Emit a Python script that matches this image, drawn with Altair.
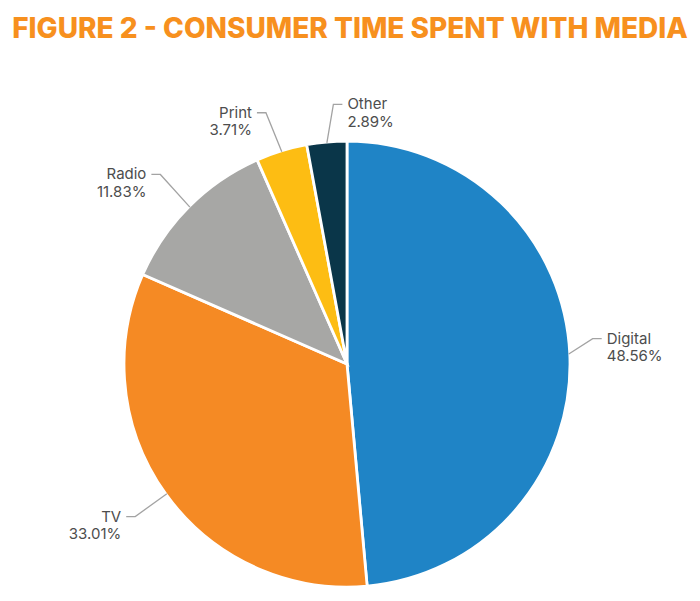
import altair as alt
import pandas as pd
import numpy as np

categories = ["Digital", "TV", "Radio", "Print", "Other"]
values = [48.56, 33.01, 11.83, 3.71, 2.89]
pct_labels = ["48.56%", "33.01%", "11.83%", "3.71%", "2.89%"]
colors = ["#1F84C6", "#F58A24", "#A7A7A5", "#FDBD13", "#0A3649"]

# label layout (style, not data)
label_side = {"Digital": "right", "TV": "left", "Radio": "left", "Print": "left", "Other": "right"}
elbow_r = {"Digital": 247, "TV": 261, "Radio": 266, "Print": 264, "Other": 260}
elbow_turn = {"Digital": -3.3, "TV": 0.0, "Radio": 0.5, "Print": -0.8, "Other": 2.2}  # degrees

W, H = 684, 585
cx, cy = 339, 356
R = 223
TAIL = 9
GAP = 5

df = pd.DataFrame({"cat": categories, "value": values, "pct": pct_labels,
                   "order": list(range(len(categories)))})
df["side"] = df["cat"].map(label_side)
total = df["value"].sum()
cum = df["value"].cumsum() - df["value"] / 2
ang = cum / total * 2 * np.pi
ang_k = ang + np.deg2rad(df["cat"].map(elbow_turn))
re = df["cat"].map(elbow_r)
df["ex"] = (R - 1) * np.sin(ang)
df["ey"] = (R - 1) * np.cos(ang)
df["kx"] = re * np.sin(ang_k)
df["ky"] = re * np.cos(ang_k)
sign = np.where(df["side"] == "right", 1, -1)
df["tx"] = df["kx"] + sign * TAIL
df["ty"] = df["ky"]
df["lx"] = df["tx"] + sign * GAP

rows = []
for _, r in df.iterrows():
    rows.append({"cat": r["cat"], "i": 0, "x": r["ex"], "y": r["ey"]})
    rows.append({"cat": r["cat"], "i": 1, "x": r["kx"], "y": r["ky"]})
    rows.append({"cat": r["cat"], "i": 2, "x": r["tx"], "y": r["ty"]})
lines = pd.DataFrame(rows)

xs = alt.Scale(domain=[-cx, W - cx], nice=False, zero=False)
ys = alt.Scale(domain=[-(H - cy), cy], nice=False, zero=False)

pie = alt.Chart(df).mark_arc(outerRadius=R, stroke="white", strokeWidth=2.8).encode(
    theta=alt.Theta("value:Q", stack=True),
    order=alt.Order("order:Q"),
    color=alt.Color("cat:N", scale=alt.Scale(domain=categories, range=colors), legend=None),
    x=alt.value(cx), y=alt.value(cy),
)

leader = alt.Chart(lines).mark_line(color="#A3A3A3", strokeWidth=1.3).encode(
    x=alt.X("x:Q", scale=xs, axis=None),
    y=alt.Y("y:Q", scale=ys, axis=None),
    detail="cat:N",
    order="i:Q",
)

font = "Inter"
txt_color = "#4D4D4D"

def label_layer(side, align):
    d = df[df["side"] == side]
    base = alt.Chart(d)
    name = base.mark_text(align=align, baseline="middle", font=font, fontSize=15,
                          color=txt_color).encode(
        x=alt.X("lx:Q", scale=xs, axis=None), y=alt.Y("ty:Q", scale=ys, axis=None), text="cat:N")
    pct = base.mark_text(align=align, baseline="middle", font=font, fontSize=15,
                         color=txt_color, dy=17.5).encode(
        x=alt.X("lx:Q", scale=xs, axis=None), y=alt.Y("ty:Q", scale=ys, axis=None), text="pct:N")
    return name + pct

title_df = pd.DataFrame({"t": ["FIGURE 2 - CONSUMER TIME SPENT WITH MEDIA"]})
title = alt.Chart(title_df).mark_text(font=font, fontSize=28, fontWeight=800,
                                      color="#F7901E", align="center", baseline="middle").encode(
    text="t:N", x=alt.value(342), y=alt.value(22))

chart = alt.layer(pie, leader, label_layer("right", "left"), label_layer("left", "right"), title).properties(
    width=W, height=H, padding=0, background="white"
).configure_view(stroke=None)

chart.save("out.html", embed_options={"renderer": "svg", "actions": False})
